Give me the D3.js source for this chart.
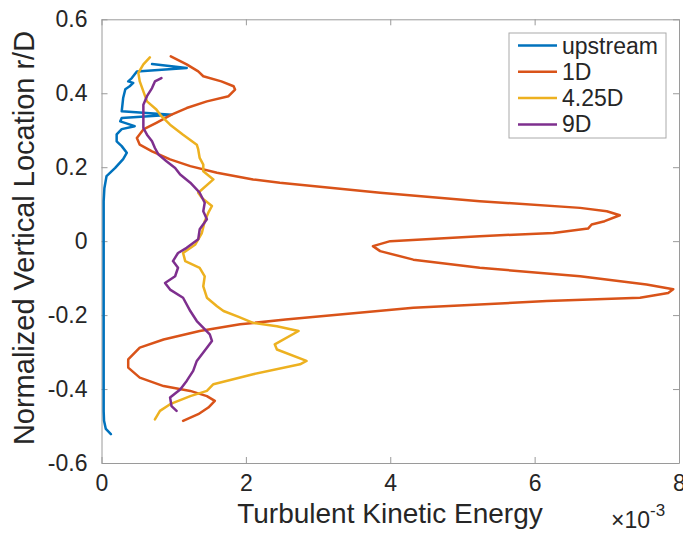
<!DOCTYPE html>
<html><head><meta charset="utf-8">
<script src="https://cdn.jsdelivr.net/npm/d3@7"></script>
<style>
html,body{margin:0;padding:0;background:#fff;}
svg{display:block;font-family:"Liberation Sans",Arial,Helvetica,sans-serif;}
</style></head>
<body><svg id="c" width="683" height="535"></svg>
<script>
// Data: TKE (x1e-3) vs normalized vertical location r/D
const seriesNames = ["upstream", "1D", "4.25D", "9D"];
const seriesColors = ["#0072BD", "#D95319", "#EDB120", "#7E2F8E"];

const upstreamR = [0.479,0.468,0.459,0.441,0.432,0.428,0.419,0.411,0.387,0.351,0.342,0.333,0.324,0.311,0.303,0.289,0.270,0.257,0.239,0.222,0.198,0.176,0.143,0.108,0.05,0.0,-0.1,-0.2,-0.3,-0.4,-0.46,-0.486,-0.508,-0.522];
const upstreamTKE = [0.70,1.18,0.49,0.42,0.37,0.44,0.39,0.33,0.30,0.28,0.97,0.28,0.26,0.46,0.28,0.21,0.21,0.28,0.35,0.30,0.19,0.07,0.04,0.03,0.03,0.03,0.03,0.03,0.03,0.03,0.03,0.035,0.06,0.13];

const d1R = [0.5,0.478,0.459,0.446,0.432,0.419,0.41,0.392,0.378,0.36,0.342,0.32,0.302,0.279,0.261,0.243,0.221,0.203,0.185,0.167,0.158,0.131,0.108,0.09,0.081,0.07,0.054,0.045,0.034,0.022,0.0135,0.0,-0.0135,-0.027,-0.05,-0.072,-0.095,-0.117,-0.13,-0.14,-0.153,-0.162,-0.18,-0.212,-0.225,-0.243,-0.266,-0.288,-0.32,-0.342,-0.369,-0.392,-0.405,-0.419,-0.432,-0.45,-0.468,-0.486];
const d1TKE = [0.96,1.18,1.34,1.41,1.66,1.83,1.85,1.76,1.46,1.18,0.97,0.76,0.58,0.49,0.53,0.70,0.95,1.23,1.60,2.10,2.47,3.86,5.24,6.63,7.0,7.18,6.97,6.79,6.74,6.26,5.24,4.0,3.76,3.86,4.32,5.24,6.63,7.55,7.92,7.85,7.46,6.17,4.32,2.55,1.92,1.36,0.86,0.53,0.37,0.37,0.53,0.86,1.23,1.46,1.57,1.48,1.34,1.13];

const d425R = [0.497,0.478,0.455,0.432,0.405,0.378,0.356,0.338,0.315,0.288,0.261,0.248,0.225,0.207,0.189,0.167,0.131,0.117,0.095,0.077,0.054,0.022,-0.009,-0.032,-0.054,-0.072,-0.095,-0.122,-0.153,-0.176,-0.189,-0.205,-0.221,-0.23,-0.243,-0.279,-0.293,-0.324,-0.333,-0.36,-0.387,-0.405,-0.419,-0.441,-0.459,-0.482];
const d425TKE = [0.67,0.58,0.51,0.53,0.58,0.63,0.76,0.83,0.95,1.13,1.32,1.34,1.36,1.41,1.41,1.55,1.34,1.39,1.53,1.48,1.43,1.39,1.30,1.13,1.16,1.36,1.43,1.41,1.46,1.60,1.69,1.90,2.10,2.43,2.73,2.40,2.43,2.84,2.75,2.10,1.55,1.46,1.23,0.95,0.81,0.74];

const d9R = [0.441,0.432,0.414,0.392,0.369,0.342,0.306,0.288,0.270,0.252,0.234,0.216,0.198,0.18,0.158,0.131,0.104,0.081,0.059,0.032,0.005,-0.018,-0.032,-0.054,-0.072,-0.095,-0.113,-0.131,-0.153,-0.189,-0.216,-0.252,-0.27,-0.288,-0.324,-0.351,-0.378,-0.401,-0.423,-0.446,-0.459];
const d9TKE = [0.83,0.74,0.70,0.63,0.58,0.58,0.58,0.63,0.70,0.74,0.79,0.90,1.02,1.09,1.23,1.36,1.43,1.41,1.46,1.36,1.34,1.18,1.06,0.99,1.06,1.02,0.88,0.95,1.13,1.23,1.32,1.50,1.53,1.46,1.32,1.27,1.18,1.09,0.95,0.97,1.04];

const xTicks = [0, 2, 4, 6, 8];
const yTicks = [-0.6, -0.4, -0.2, 0, 0.2, 0.4, 0.6];
const xLabel = "Turbulent Kinetic Energy";
const yLabel = "Normalized Vertical Location r/D";

const allR = [upstreamR, d1R, d425R, d9R];
const allTKE = [upstreamTKE, d1TKE, d425TKE, d9TKE];

const svg = d3.select("#c");
const L = 101.5, R = 679, T = 19.3, B = 463;
const x = d3.scaleLinear().domain([0, 8]).range([L, R]);
const y = d3.scaleLinear().domain([-0.6, 0.6]).range([B, T]);
const axisColor = "#9a9a9a", textColor = "#262626";

function styleAxis(g){
  g.select(".domain").attr("stroke", axisColor);
  g.selectAll(".tick line").attr("stroke", axisColor);
  g.selectAll("text").attr("fill", textColor).style("font-size","23px").attr("font-family",'"Liberation Sans",Arial,Helvetica,sans-serif');
}
const yFmt = d => d === 0 ? "0" : d3.format(".1f")(d).replace("\u2212", "-");
svg.append("g").attr("transform",`translate(0,${B})`)
  .call(d3.axisBottom(x).tickValues(xTicks).tickFormat(d3.format("d")).tickSizeInner(-6).tickSizeOuter(0).tickPadding(12))
  .call(styleAxis);
svg.append("g").attr("transform",`translate(0,${T})`)
  .call(d3.axisTop(x).tickValues(xTicks).tickFormat("").tickSizeInner(-6).tickSizeOuter(0))
  .call(styleAxis);
svg.append("g").attr("transform",`translate(${L},0)`)
  .call(d3.axisLeft(y).tickValues(yTicks).tickFormat(yFmt).tickSizeInner(-6).tickSizeOuter(0).tickPadding(14))
  .call(styleAxis);
svg.append("g").attr("transform",`translate(${R},0)`)
  .call(d3.axisRight(y).tickValues(yTicks).tickFormat("").tickSizeInner(-6).tickSizeOuter(0))
  .call(styleAxis);

const line = d3.line().x(d => x(d[1])).y(d => y(d[0])).curve(d3.curveLinear);
allR.forEach((rs, i) => {
  const pts = rs.map((r, j) => [r, allTKE[i][j]]);
  svg.append("path").datum(pts).attr("d", line)
    .attr("fill","none").attr("stroke", seriesColors[i]).attr("stroke-width", 2.5)
    .attr("stroke-linejoin","round").attr("stroke-linecap","round");
});

svg.append("text").attr("x", 390).attr("y", 522.5).attr("text-anchor","middle")
  .attr("fill", textColor).style("font-size","28px").text(xLabel);
svg.append("text").attr("transform","translate(34,238) rotate(-90)").attr("text-anchor","middle")
  .attr("fill", textColor).style("font-size","29px").text(yLabel);
const ex = svg.append("text").attr("x", 611).attr("y", 528).attr("fill", textColor).style("font-size","23px");
ex.append("tspan").text("\u00d710");
ex.append("tspan").attr("dy", -12).style("font-size","17px").text("-3");

const lg = svg.append("g");
lg.append("rect").attr("x",509).attr("y",33).attr("width",157).attr("height",105)
  .attr("fill","#fff").attr("stroke","#aaaaaa").attr("stroke-width",1);
seriesNames.forEach((n, i) => {
  const yy = 45.5 + i * 26.3;
  lg.append("line").attr("x1",518).attr("x2",557).attr("y1",yy).attr("y2",yy)
    .attr("stroke", seriesColors[i]).attr("stroke-width",2.5);
  lg.append("text").attr("x",562).attr("y",yy).attr("dy","0.35em")
    .attr("fill", textColor).style("font-size","23px").text(n);
});
</script></body></html>
